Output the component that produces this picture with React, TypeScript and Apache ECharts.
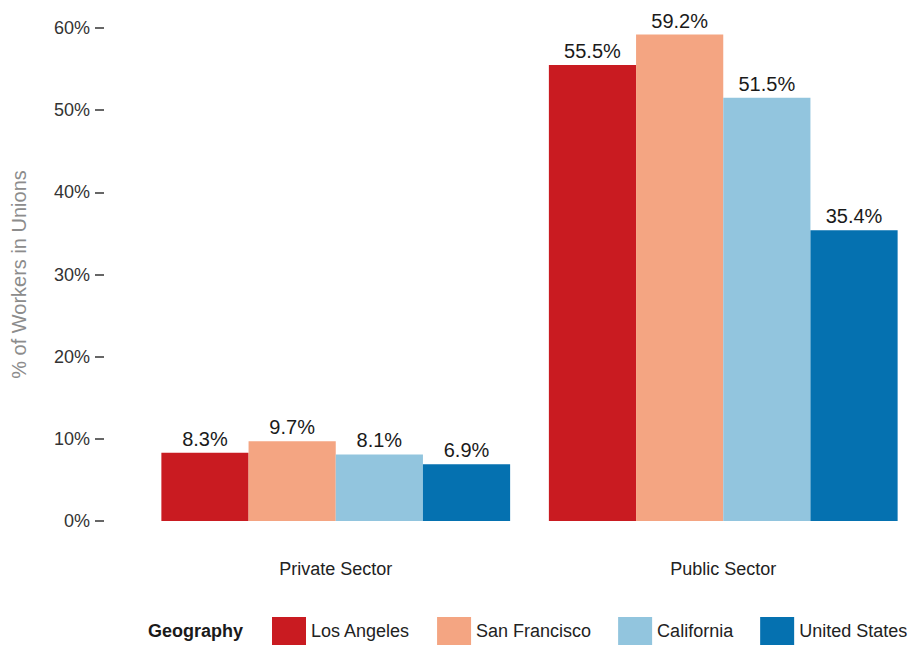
import React, { useEffect, useRef } from "react";
import * as echarts from "echarts";

const categories = ["Private Sector", "Public Sector"];
const geographies = ["Los Angeles", "San Francisco", "California", "United States"];
const losAngeles = [8.3, 55.5];
const sanFrancisco = [9.7, 59.2];
const california = [8.1, 51.5];
const unitedStates = [6.9, 35.4];
const colors = ["#c91b21", "#f4a582", "#92c5de", "#0571b0"];
const yTicks = { min: 0, max: 60, interval: 10 };

const FONT = '"Liberation Sans", Arial, Helvetica, sans-serif';

export default function App() {
  const ref = useRef<HTMLDivElement>(null);
  useEffect(() => {
    if (!ref.current) return;
    const chart = echarts.init(ref.current, null, { renderer: "svg" });
    const seriesData = [losAngeles, sanFrancisco, california, unitedStates];
    chart.setOption({
      animation: false,
      backgroundColor: "#ffffff",
      textStyle: { fontFamily: FONT },
      grid: { left: 142, right: 0, top: 28, bottom: 124, containLabel: false },
      legend: {
        left: 272,
        top: 617,
        width: 645,
        padding: 0,
        itemWidth: 34,
        itemHeight: 28,
        itemGap: 27,
        icon: "rect",
        data: geographies,
        textStyle: { fontSize: 18, color: "#222", fontFamily: FONT },
      },
      graphic: [
        {
          type: "text",
          left: 148,
          top: 622,
          style: {
            text: "Geography",
            font: `bold 18px ${FONT}`,
            fill: "#1a1a1a",
          },
        },
      ],
      xAxis: {
        type: "category",
        data: categories,
        axisLine: { show: false },
        axisTick: { show: false },
        axisLabel: { fontSize: 18, color: "#222", margin: 39, fontFamily: FONT },
      },
      yAxis: {
        type: "value",
        min: yTicks.min,
        max: yTicks.max,
        interval: yTicks.interval,
        offset: 38,
        name: "% of Workers in Unions",
        nameLocation: "middle",
        nameGap: 75,
        nameTextStyle: { fontSize: 20, color: "#8c8c8c", fontFamily: FONT },
        splitLine: { show: false },
        axisLine: { show: false },
        axisTick: { show: true, length: 9, lineStyle: { color: "#333", width: 1.5 } },
        axisLabel: {
          formatter: "{value}%",
          fontSize: 18,
          color: "#333",
          margin: 14,
          fontFamily: FONT,
        },
      },
      series: geographies.map((name, i) => ({
        name,
        type: "bar",
        data: seriesData[i],
        barGap: "0%",
        barCategoryGap: "10%",
        itemStyle: { color: colors[i] },
        label: {
          show: true,
          position: "top",
          distance: 4,
          formatter: (p: any) => `${p.value.toFixed(1)}%`,
          fontSize: 20,
          color: "#1a1a1a",
          fontFamily: FONT,
        },
      })),
    });
    return () => chart.dispose();
  }, []);
  return (
    <div
      ref={ref}
      style={{ position: "absolute", left: 0, top: 0, width: 917, height: 645 }}
    />
  );
}
